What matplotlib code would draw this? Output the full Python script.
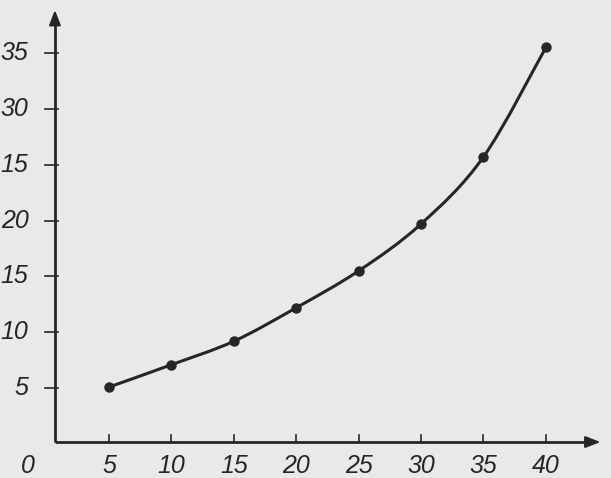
import matplotlib
matplotlib.use("Agg")
import matplotlib.pyplot as plt
from matplotlib.path import Path
from matplotlib.patches import PathPatch
import numpy as np

# data
x_vals = [5, 10, 15, 20, 25, 30, 35, 40]
y_vals = [5.1, 7.1, 9.2, 12.2, 15.5, 19.7, 25.7, 35.5]
x_ticks = [5, 10, 15, 20, 25, 30, 35, 40]
y_ticks = [5, 10, 15, 20, 25, 30, 35]
y_tick_labels = ["5", "10", "15", "20", "15", "30", "35"]  # as printed

ink = "#262626"
fig = plt.figure(figsize=(6.11, 4.78), dpi=100)
fig.patch.set_facecolor("#e9e9e7")
ax = fig.add_axes([0, 0, 1, 1])
ax.set_facecolor("#e9e9e7")
ax.set_xlim(-3.73, 45.22)
ax.set_ylim(-3.04, 39.75)
ax.axis("off")

font = dict(family=["Liberation Sans Narrow", "Liberation Sans"], style="italic",
            size=18, color=ink)

# axes with arrows
x0, y0 = 0.67, 0.18
ax.plot([x0, 43.8], [y0, y0], color=ink, lw=2.0, solid_capstyle="butt")
ax.plot([x0, x0], [y0, 37.9], color=ink, lw=2.0, solid_capstyle="butt")
ax.annotate("", xy=(44.6, y0), xytext=(43.0, y0),
            arrowprops=dict(arrowstyle="-|>,head_length=0.9,head_width=0.35", color=ink, lw=1.5))
ax.annotate("", xy=(x0, 39.1), xytext=(x0, 37.4),
            arrowprops=dict(arrowstyle="-|>,head_length=0.9,head_width=0.35", color=ink, lw=1.5))

# ticks
for t in x_ticks:
    ax.plot([t, t], [y0, y0 + 0.65], color=ink, lw=1.2)
    ax.text(t, -1.95, str(t), ha="center", va="center", **font)
for t, lab in zip(y_ticks, y_tick_labels):
    ax.plot([x0 - 0.8, x0 + 0.25], [t, t], color=ink, lw=1.2)
    ax.text(-1.45, t, lab, ha="right", va="center", **font)
ax.text(-1.5, -2.0, "0", ha="center", va="center", **font)

# smooth curve through the points (Catmull-Rom as cubic Bezier)
pts = np.column_stack([x_vals, y_vals])
verts = [tuple(pts[0])]
codes = [Path.MOVETO]
for i in range(len(pts) - 1):
    p0 = pts[i - 1] if i > 0 else pts[i]
    p1 = pts[i]
    p2 = pts[i + 1]
    p3 = pts[i + 2] if i + 2 < len(pts) else pts[i + 1]
    c1 = p1 + (p2 - p0) / 6.0
    c2 = p2 - (p3 - p1) / 6.0
    verts += [tuple(c1), tuple(c2), tuple(p2)]
    codes += [Path.CURVE4] * 3
ax.add_patch(PathPatch(Path(verts, codes), fill=False, edgecolor=ink, lw=2.2))
ax.plot(x_vals, y_vals, "o", color=ink, markersize=6.5, linestyle="none")

fig.savefig("out.png", dpi=100, facecolor=fig.get_facecolor())
